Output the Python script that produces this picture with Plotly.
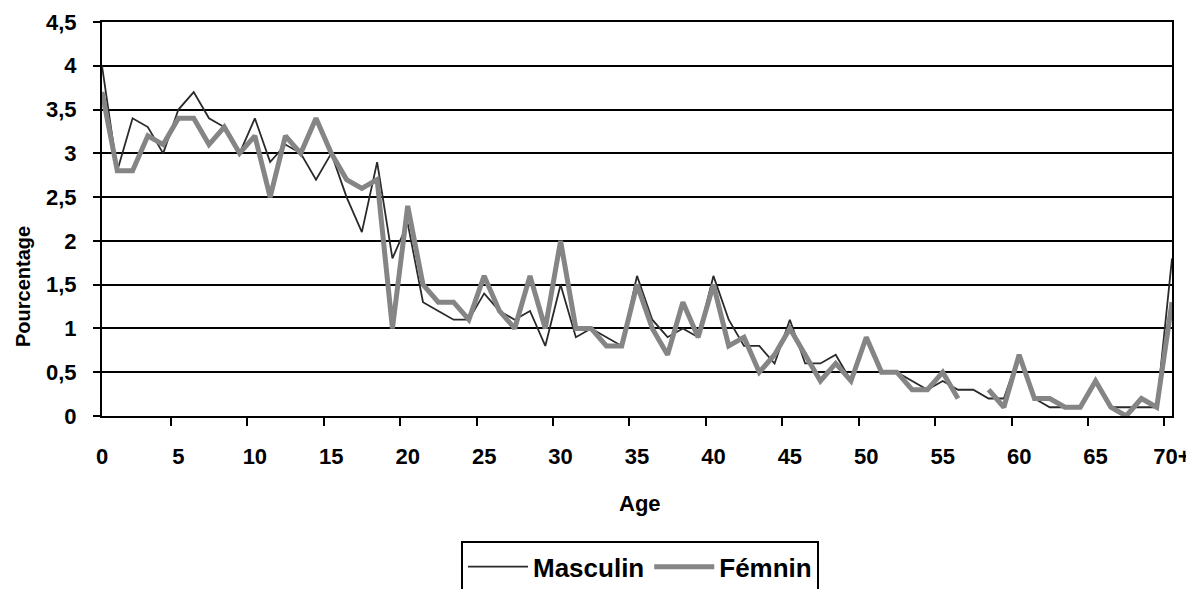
import plotly.graph_objects as go

ages = [str(i) for i in range(70)] + ["70+"]

masculin = [4.0, 2.8, 3.4, 3.3, 3.0, 3.5, 3.7, 3.4, 3.3, 3.0,
            3.4, 2.9, 3.1, 3.0, 2.7, 3.0, 2.5, 2.1, 2.9, 1.8,
            2.2, 1.3, 1.2, 1.1, 1.1, 1.4, 1.2, 1.1, 1.2, 0.8,
            1.5, 0.9, 1.0, 0.9, 0.8, 1.6, 1.1, 0.9, 1.0, 0.9,
            1.6, 1.1, 0.8, 0.8, 0.6, 1.1, 0.6, 0.6, 0.7, 0.4,
            0.9, 0.5, 0.5, 0.4, 0.3, 0.4, 0.3, 0.3, 0.2, 0.2,
            0.7, 0.2, 0.1, 0.1, 0.1, 0.4, 0.1, 0.1, 0.1, 0.1,
            1.8]

feminin = [3.7, 2.8, 2.8, 3.2, 3.1, 3.4, 3.4, 3.1, 3.3, 3.0,
           3.2, 2.5, 3.2, 3.0, 3.4, 3.0, 2.7, 2.6, 2.7, 1.0,
           2.4, 1.5, 1.3, 1.3, 1.1, 1.6, 1.2, 1.0, 1.6, 1.0,
           2.0, 1.0, 1.0, 0.8, 0.8, 1.5, 1.0, 0.7, 1.3, 0.9,
           1.5, 0.8, 0.9, 0.5, 0.7, 1.0, 0.7, 0.4, 0.6, 0.4,
           0.9, 0.5, 0.5, 0.3, 0.3, 0.5, 0.2, None, 0.3, 0.1,
           0.7, 0.2, 0.2, 0.1, 0.1, 0.4, 0.1, 0.0, 0.2, 0.1,
           1.3]

FONT = "Arial, Liberation Sans, sans-serif"

fig = go.Figure()
fig.add_trace(go.Scatter(x=ages, y=masculin, mode="lines", name="Masculin",
                         line=dict(color="#2a2a2a", width=1.8)))
fig.add_trace(go.Scatter(x=ages, y=feminin, mode="lines", name="Fémnin",
                         line=dict(color="#858585", width=5), connectgaps=False))

fig.update_layout(
    width=1186, height=581,
    margin=dict(l=94, r=22, t=14, b=173, autoexpand=False),
    paper_bgcolor="white", plot_bgcolor="white",
    separators=", ",
    font=dict(family=FONT, color="black", weight="bold"),
    showlegend=True,
    legend=dict(orientation="h", x=(640 - 102) / 1070, xanchor="center", y=-0.318,
                yanchor="top", bordercolor="black", borderwidth=2, bgcolor="white",
                font=dict(size=26, family=FONT, weight="bold"),
                itemwidth=60, tracegroupgap=0),
    xaxis=dict(type="category", tickmode="linear", tick0=0, dtick=5,
               tickson="boundaries", ticks="outside", ticklen=8, tickwidth=2,
               tickangle=0, automargin=False,
               tickcolor="black", showline=True, linecolor="black", linewidth=2,
               mirror=True, showgrid=False, ticklabelstandoff=20,
               tickfont=dict(size=22, family=FONT, weight="bold")),
    yaxis=dict(range=[0, 4.5], dtick=0.5, tick0=0, ticks="outside", ticklen=7,
               tickwidth=2, tickcolor="black", showline=True, linecolor="black",
               linewidth=2, mirror=True, showgrid=True, gridcolor="black",
               gridwidth=2, zeroline=False, ticklabelstandoff=12, automargin=False,
               tickfont=dict(size=22, family=FONT, weight="bold")),
    annotations=[
        dict(text="Age", xref="paper", yref="paper", x=(640 - 102) / 1070,
             y=(416 - 503) / 394, xanchor="center", yanchor="middle", showarrow=False,
             font=dict(size=22, family=FONT, weight="bold")),
        dict(text="Pourcentage", xref="paper", yref="paper", x=(23 - 102) / 1070,
             y=(416 - 287) / 394, xanchor="center", yanchor="middle", textangle=-90,
             showarrow=False, font=dict(size=20, family=FONT, weight="bold")),
    ],
)

fig.write_html("out.html")
